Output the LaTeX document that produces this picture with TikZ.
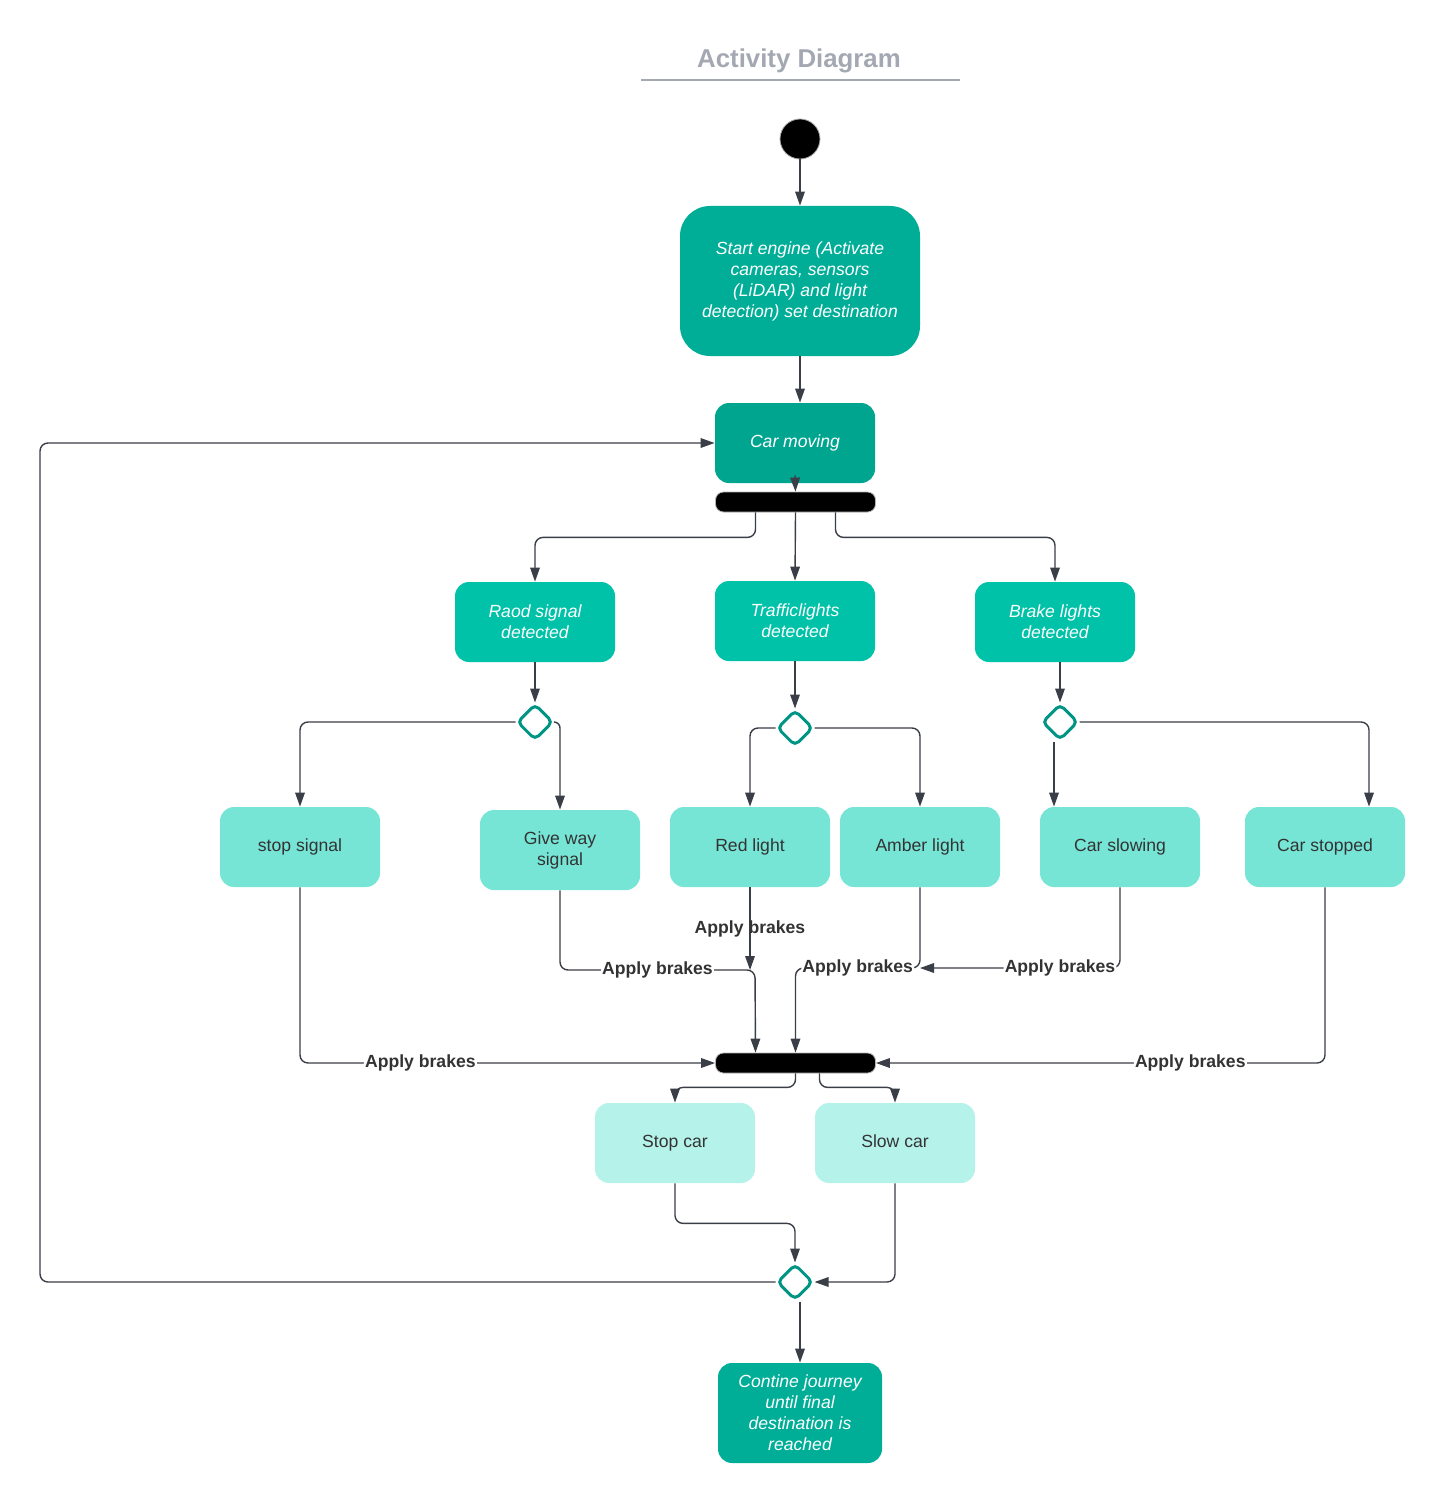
\documentclass[tikz,border=0pt]{standalone}
\usepackage{fontspec}
\setsansfont{Liberation Sans}
\usepackage{tikz}
\usepackage{xcolor}
\definecolor{titlegray}{HTML}{A3A8B3}
\definecolor{linedark}{HTML}{3A3E46}
\definecolor{tealdark}{HTML}{00AE98}
\definecolor{tealmid}{HTML}{00C2A8}
\definecolor{teallight}{HTML}{76E5D6}
\definecolor{tealpale}{HTML}{B5F3EA}
\definecolor{tealedge}{HTML}{009485}
\definecolor{textdark}{HTML}{333333}
\usetikzlibrary{shapes.geometric, arrows.meta, positioning, calc}

\begin{document}
\begin{tikzpicture}[
        x=0.5pt, y=-0.5pt,
        font=\sffamily\fontsize{8.8}{10.5}\selectfont,
        act_dark/.style={
            rectangle,
            rounded corners=7pt,
            fill=tealdark,
            text=white,
            align=center,
            font=\sffamily\itshape\fontsize{8.8}{10.5}\selectfont,
            minimum width=80pt,
            minimum height=40pt
        },
        act_mid/.style={
            act_dark,
            fill=tealmid
        },
        act_light/.style={
            rectangle,
            rounded corners=7pt,
            fill=teallight,
            text=textdark,
            align=center,
            minimum width=80pt,
            minimum height=40pt
        },
        act_pale/.style={
            act_light,
            fill=tealpale,
            text height=6.4pt,
            text depth=1.9pt
        },
        bar_node/.style={
            rectangle,
            rounded corners=4pt,
            fill=black,
            draw=gray!60,
            line width=0.4pt,
            minimum width=80pt,
            minimum height=10pt,
            inner sep=0pt
        },
        choice_node/.style={
            diamond,
            draw=tealedge,
            fill=white,
            line width=1.5pt,
            rounded corners=2.5pt,
            minimum width=18pt,
            minimum height=18pt,
            inner sep=0pt
        },
        start_node/.style={
            circle,
            fill=black,
            draw=gray!70,
            line width=0.4pt,
            minimum size=20pt,
            inner sep=0pt
        },
        arrow/.style={
            -{Triangle[length=7pt, width=4.8pt]},
            draw=linedark,
            line width=0.7pt,
            rounded corners=4pt
        },
        lbl/.style={
            fill=white,
            inner sep=0.6pt,
            text=textdark,
            font=\sffamily\bfseries\fontsize{8.8}{10.5}\selectfont
        }
    ]

    \useasboundingbox (0,0) rectangle (1445,1503);

    % Title
    \node[font=\sffamily\bfseries\fontsize{12.9}{15}\selectfont, text=titlegray] (title) at (799,61) {Activity Diagram};
    \draw[titlegray, line width=1pt] (641,80) -- (960,80);

    % Start and setup
    \node[start_node] (start) at (800,139) {};
    \node[act_dark, rounded corners=15pt, minimum width=120pt, minimum height=75pt] (engine) at (800,281) {Start engine (Activate\\cameras, sensors\\(LiDAR) and light\\detection) set destination};
    \node[act_dark, fill=tealdark!95!black] (moving) at (795,443) {Car moving};
    \node[bar_node] (forkA) at (795.5,502) {};

    % Detection (Middle)
    \node[act_mid] (raod) at (535,622) {Raod signal\\detected};
    \node[act_mid] (traffic) at (795,621) {Trafficlights\\detected};
    \node[act_mid] (brake) at (1055,622) {Brake lights\\detected};

    \node[choice_node] (dRaod) at (535,722) {};
    \node[choice_node] (dTraffic) at (795,728) {};
    \node[choice_node] (dBrake) at (1060,722) {};

    % Conditions
    \node[act_light] (stopsig) at (300,847) {stop signal};
    \node[act_light] (giveway) at (560,850) {Give way\\signal};
    \node[act_light] (red) at (750,847) {Red light};
    \node[act_light] (amber) at (920,847) {Amber light};
    \node[act_light] (slowing) at (1120,847) {Car slowing};
    \node[act_light] (stopped) at (1325,847) {Car stopped};

    % Reactions (Bottom)
    \node[bar_node] (joinB) at (795.5,1063) {};
    \node[act_pale] (stopcar) at (675,1143) {Stop car};
    \node[act_pale] (slowcar) at (895,1143) {Slow car};
    \node[choice_node] (dMerge) at (795,1282) {};
    \node[act_dark, minimum width=82pt, minimum height=50pt] (contine) at (800,1413) {Contine journey\\until final\\destination is\\reached};

    \coordinate (gwturn) at (755,970);
    \coordinate (amturn) at (920,968);
    \coordinate (backleft) at (40,1282);

    % Arrows
    \draw[arrow] (start) -- (engine);
    \draw[arrow] (engine.south) -- (engine.south |- moving.north);
    \draw[arrow] ([yshift=4pt]moving.south) -- (forkA.north);

    \draw[arrow] ([xshift=-20pt]forkA.south) -- ++(0,25) -| (raod.north);
    \draw[arrow] (forkA.south) -- (traffic.north);
    \draw[arrow] ([xshift=20pt]forkA.south) -- ++(0,25) -| (brake.north);

    \draw[arrow] (raod) -- (dRaod);
    \draw[arrow] (traffic) -- (dTraffic);
    \draw[arrow] (dBrake.north |- brake.south) -- (dBrake.north);

    \draw[arrow] (dRaod.west) -| (stopsig.north);
    \draw[arrow, rounded corners=3pt] (dRaod.east) -| (giveway.north);
    \draw[arrow] (dTraffic.west) -| (red.north);
    \draw[arrow] (dTraffic.east) -| (amber.north);
    \draw[arrow] ([xshift=-3pt]dBrake.south) -- ([xshift=-3pt]dBrake.south |- slowing.north);
    \draw[arrow] (dBrake.east) -| ([xshift=22pt]stopped.north);

    \draw[arrow] (stopsig.south) |- (joinB.west) node[pos=0.645, lbl] {Apply brakes};
    \draw[arrow] (giveway.south) |- (gwturn) node[pos=0.75, lbl] {Apply brakes} -- ([xshift=-20pt]joinB.north);
    \draw[arrow] (red.south) -- (red.south |- gwturn) node[midway, lbl, fill=none] {Apply brakes};
    \draw[arrow] (amber.south) |- (joinB.north |- amturn) node[pos=0.75, lbl] {Apply brakes} -- (joinB.north);
    \draw[arrow] (slowing.south) |- (amturn) node[pos=0.65, lbl] {Apply brakes};
    \draw[arrow] (stopped.south) |- (joinB.east) node[pos=0.65, lbl] {Apply brakes};

    \draw[arrow] (joinB.south) -- ++(0,14) -| (stopcar.north);
    \draw[arrow] ([xshift=12pt]joinB.south) -- ++(0,14) -| (slowcar.north);
    \draw[arrow] (stopcar.south) -- ++(0,40) -| (dMerge.north);
    \draw[arrow] (slowcar.south) |- (dMerge.east);
    \draw[arrow] (dMerge.west) -- (backleft) |- (moving.west);
    \draw[arrow] (contine.north |- dMerge.south) -- (contine.north);

    \end{tikzpicture}
\end{document}
